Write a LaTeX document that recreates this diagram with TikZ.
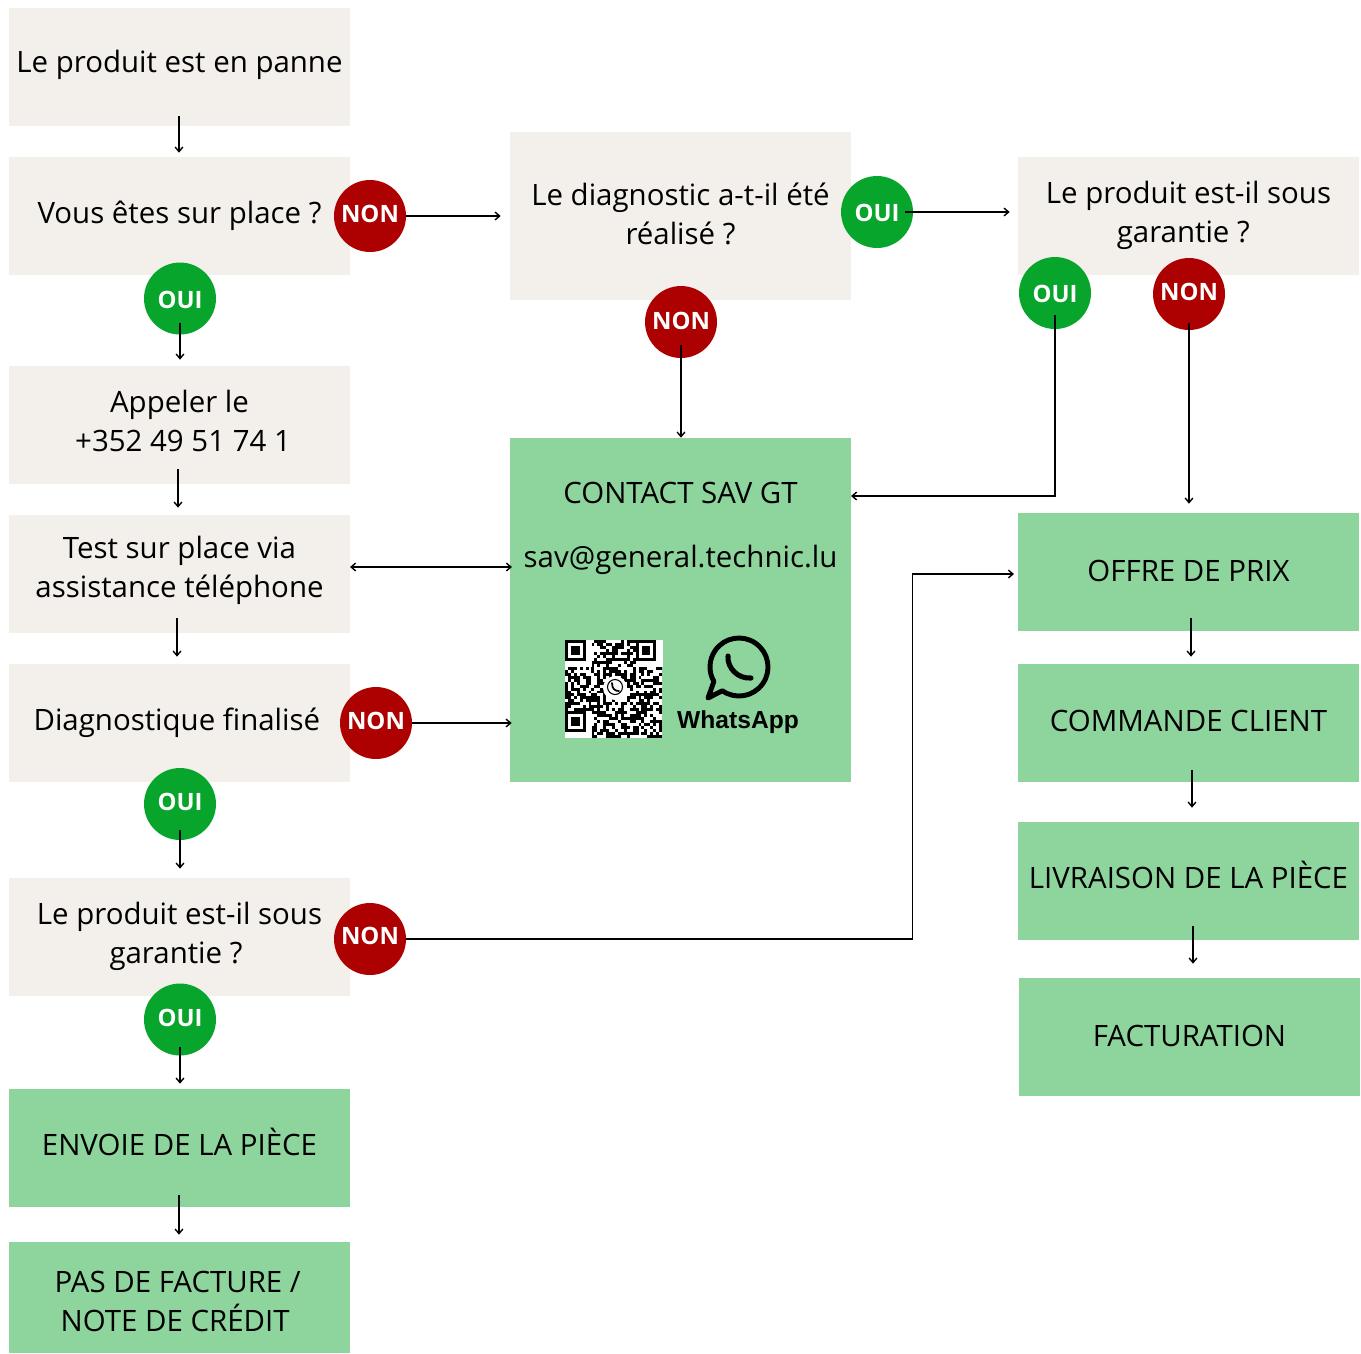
\documentclass[tikz,border=0pt]{standalone}
\usepackage{fontspec}
\setmainfont{Open Sans}
\newfontfamily\logofont{Liberation Sans}
\usetikzlibrary{arrows.meta}
\definecolor{beige}{HTML}{F3F0EB}
\definecolor{vert}{HTML}{8ED59D}
\definecolor{rouge}{HTML}{AD0000}
\definecolor{oui}{HTML}{07A52C}
\tikzset{
  base/.style={text height=#1*1.138pt, text depth=0pt},
  box/.style={rectangle, inner sep=0pt, minimum width=6.82cm, minimum height=2.36cm, align=center, font=\fontsize{16.75}{22.4}\selectfont},
  panne/.style={box, fill=beige},
  action/.style={box, fill=vert},
  badge/.style={circle, inner sep=0pt, minimum size=1.44cm, text=white, font=\fontsize{13.6}{16}\selectfont\bfseries},
  nonbadge/.style={badge, fill=rouge},
  ouibadge/.style={badge, fill=oui},
  fleche/.style={line width=0.8pt, -{Straight Barb[length=2.6pt,width=4.4pt]}},
  doublefleche/.style={line width=0.8pt, {Straight Barb[length=2.6pt,width=4.4pt]}-{Straight Barb[length=2.6pt,width=4.4pt]}},
  fromin/.style={shorten <=-#1*0.569pt},
  gap/.style={shorten >=#1*0.569pt},
}
\begin{document}
\begin{tikzpicture}[x=0.02cm, y=-0.02cm]
  \useasboundingbox (0,0) rectangle (1361,1353);
  % left column
  \node[panne, base=5] (enpanne) at (179.5,67) {Le produit est en panne};
  \node[panne, base=7] (surplace) at (179.5,216) {Vous êtes sur place ?};
  \node[panne, base=26.5] (appeler) at (179.5,425) {Appeler le\\\hspace*{4pt}+352 49 51 74 1};
  \node[panne, base=23.5] (test) at (179.5,574) {Test sur place via\\assistance téléphone};
  \node[panne, base=7] (finalise) at (179.5,723) {Diagnostique finalisé\hspace*{3pt}};
  \node[panne, base=26.5] (garantiegauche) at (179.5,937) {Le produit est-il sous\\garantie ?\hspace*{4pt}};
  \node[action, base=7] (envoie) at (179.5,1148) {ENVOIE DE LA PIÈCE};
  \node[action, base=34, minimum height=2.22cm] (pasfacture) at (179.5,1297.5) {PAS DE FACTURE /\hspace*{2pt}\\NOTE DE CRÉDIT\hspace*{5pt}};
  % middle column
  \node[panne, base=28.5, minimum height=3.36cm] (diagnostic) at (680.5,216) {Le diagnostic a-t-il été\\réalisé ?};
  \node[action, minimum height=6.88cm] (contact) at (680.5,610) {};
  \node[font=\fontsize{16.75}{20}\selectfont] (savtitre) at (680.5,493) {CONTACT SAV GT};
  \node[font=\fontsize{16.75}{20}\selectfont] (savmail) at (680.5,560) {sav@general.technic.lu};
  % right column
  \node[panne, base=26.5] (garantiedroite) at (1188.5,216) {Le produit est-il sous\\garantie ?\hspace*{6pt}};
  \node[action, base=9] (offre) at (1188.5,572) {OFFRE DE PRIX};
  \node[action, base=8] (commande) at (1188.5,723) {COMMANDE CLIENT};
  \node[action, base=7] (livraison) at (1188.5,881) {LIVRAISON DE LA PIÈCE};
  \node[action, base=9] (facturation) at (1189.5,1037) {FACTURATION};
  % qr code
  \fill[white] (565,640) rectangle (662,738);
  \pgfmathsetseed{41}
  \foreach \i in {0,...,32}
    \foreach \j in {0,...,32} {
      \pgfmathparse{rnd<0.55 ? 1 : 0}
      \ifnum\pgfmathresult=1
        \fill[black] (565+\i*2.94,640+\j*2.97) rectangle ++(2.94,2.97);
      \fi
    }
  \foreach \cx/\cy in {565/640, 635.5/640, 565/711} {
    \fill[white] (\cx,\cy) rectangle ++(27,27);
    \fill[black] (\cx,\cy) rectangle ++(20.5,20.5);
    \fill[white] (\cx+3,\cy+3) rectangle ++(14.5,14.5);
    \fill[black] (\cx+6,\cy+6) rectangle ++(8.5,8.5);
  }
  \fill[white] (615,688) circle[radius=12];
  \draw[line width=0.6pt] (615,687) circle[radius=7.5];
  \draw[line width=1pt, line cap=round] (612,683) .. controls (612,689) and (615,691) .. (619,691);
  % whatsapp
  \draw[line width=2.8pt, line join=round] (739,667) ++(125:29) arc[start angle=125, end angle=-210, radius=29] -- (708,698) -- cycle;
  \draw[line width=2.9pt, line cap=round] (728,656) .. controls (727,668) and (738,679) .. (751,678);
  \node[font=\logofont\fontsize{14}{16}\selectfont\bfseries, inner sep=0pt] (whatsapp) at (738,722) {WhatsApp};
  % badges
  \node[nonbadge, base=6] (nonsurplace) at (370,216) {NON};
  \node[ouibadge, base=9.5] (ouisurplace) at (180,298.5) {OUI};
  \node[nonbadge, base=7.5] (nondiagnostic) at (681,322) {NON};
  \node[ouibadge, base=9] (ouidiagnostic) at (877,212) {OUI};
  \node[ouibadge, base=9] (ouidroite) at (1055,293) {OUI};
  \node[nonbadge, base=6.5] (nondroite) at (1189,294) {NON};
  \node[nonbadge, base=6.5] (nonfinalise) at (376,723) {NON};
  \node[ouibadge, base=6.5] (ouifinalise) at (180,804) {OUI};
  \node[nonbadge, base=5.5] (nongauche) at (370,939) {NON};
  \node[ouibadge, base=7] (ouigauche) at (180,1019.5) {OUI};
  % free ends of the connectors
  \coordinate (testout) at (350,567);
  \coordinate (savtest) at (512,567);
  \coordinate (savin) at (851,496);
  \coordinate (coude) at (912.5,939);
  \coordinate (offrein) at (1014,574);
  % left connectors
  \draw[fleche, fromin=10, gap=4] (enpanne.south -| 179,0) -- (surplace.north -| 179,0);
  \draw[fleche, fromin=12, gap=6] (ouisurplace.south) -- (appeler.north -| ouisurplace);
  \draw[fleche, fromin=15, gap=7] (appeler.south -| 178,0) -- (test.north -| 178,0);
  \draw[doublefleche] (testout) -- (savtest);
  \draw[fleche, fromin=15, gap=7] (test.south -| 177,0) -- (finalise.north -| 177,0);
  \draw[fleche, fromin=10, gap=9] (ouifinalise.south) -- (garantiegauche.north -| ouifinalise);
  \draw[fleche, fromin=9, gap=5] (ouigauche.south) -- (envoie.north -| ouigauche);
  \draw[fleche, fromin=12, gap=7] (envoie.south -| 179,0) -- (pasfacture.north -| 179,0);
  % middle and right connectors
  \draw[fleche, gap=9] (nonsurplace.east) -- (diagnostic.west |- nonsurplace);
  \draw[fleche, gap=-2] (nonfinalise.east) -- (contact.west |- nonfinalise);
  \draw[fleche, fromin=13] (nondiagnostic.south) -- (contact.north -| nondiagnostic);
  \draw[fleche, fromin=8, gap=8] (ouidiagnostic.east) -- (garantiedroite.west |- ouidiagnostic);
  \draw[fleche, fromin=14] (ouidroite.south) |- (savin);
  \draw[fleche, fromin=7, gap=9] (nondroite.south) -- (offre.north -| nondroite);
  \draw[fleche] (nongauche.east) -- (coude) |- (offrein);
  \draw[fleche, fromin=13, gap=7] (offre.south -| 1191,0) -- (commande.north -| 1191,0);
  \draw[fleche, fromin=12, gap=14] (commande.south -| 1192,0) -- (livraison.north -| 1192,0);
  \draw[fleche, fromin=14, gap=14] (livraison.south -| 1193,0) -- (facturation.north -| 1193,0);
\end{tikzpicture}
\end{document}
